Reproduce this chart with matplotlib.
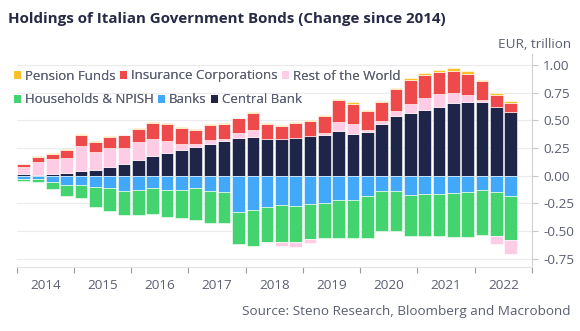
import numpy as np
import matplotlib.pyplot as plt
from matplotlib.patches import Patch

# Quarterly change since 2014 (EUR trillion), 2014Q1 .. 2022Q3
central_bank = [0.012, 0.010, 0.015, 0.020, 0.040, 0.055, 0.080, 0.105, 0.140, 0.175, 0.205, 0.235,
                0.256, 0.286, 0.310, 0.337, 0.352, 0.333, 0.331, 0.345, 0.356, 0.365, 0.400, 0.378,
                0.396, 0.468, 0.535, 0.565, 0.590, 0.617, 0.657, 0.670, 0.666, 0.620, 0.577]
rest_of_world = [0.063, 0.117, 0.133, 0.136, 0.226, 0.160, 0.166, 0.148, 0.160, 0.154, 0.111, 0.054,
                 0.030, 0.036, 0.020, 0.045, 0.060, -0.015, -0.030, -0.048, -0.032, 0.020, 0.082, 0.087,
                 0.020, 0.022, 0.050, 0.084, 0.114, 0.117, 0.093, 0.063, 0.020, -0.075, -0.123]
insurance = [0.030, 0.045, 0.051, 0.075, 0.102, 0.093, 0.108, 0.111, 0.126, 0.145, 0.154, 0.145,
             0.130, 0.133, 0.139, 0.136, 0.154, 0.130, 0.120, 0.133, 0.142, 0.150, 0.200, 0.187,
             0.168, 0.174, 0.198, 0.217, 0.205, 0.199, 0.196, 0.187, 0.166, 0.111, 0.084]
pension = [0.004, 0.005, 0.006, 0.008, 0.006, 0.008, 0.008, 0.008, 0.008, 0.009, 0.009, 0.009,
           0.010, 0.010, 0.009, 0.006, 0.009, 0.009, 0.009, 0.009, 0.009, 0.009, 0.010, 0.010,
           0.012, 0.015, 0.012, 0.018, 0.021, 0.021, 0.024, 0.024, 0.015, 0.012, 0.015]
banks = [-0.033, -0.030, -0.057, -0.080, -0.080, -0.105, -0.114, -0.138, -0.130, -0.111, -0.130, -0.125,
         -0.108, -0.135, -0.148, -0.325, -0.310, -0.280, -0.267, -0.270, -0.252, -0.250, -0.222, -0.216,
         -0.185, -0.139, -0.139, -0.175, -0.166, -0.163, -0.160, -0.148, -0.127, -0.145, -0.180]
households = [-0.012, -0.024, -0.060, -0.105, -0.124, -0.175, -0.205, -0.217, -0.226, -0.235, -0.247, -0.260,
              -0.290, -0.290, -0.280, -0.295, -0.325, -0.316, -0.335, -0.325, -0.322, -0.316, -0.340, -0.346,
              -0.380, -0.364, -0.364, -0.367, -0.380, -0.380, -0.395, -0.404, -0.410, -0.400, -0.400]
years = ["2014", "2015", "2016", "2017", "2018", "2019", "2020", "2021", "2022"]

colors = {
    "Pension Funds": "#fbbf2a",
    "Insurance Corporations": "#ee4a4c",
    "Rest of the World": "#ffcce6",
    "Households & NPISH": "#43d36f",
    "Banks": "#42a8fa",
    "Central Bank": "#1f2548",
}
# stacking order away from zero
stack = [
    ("Central Bank", central_bank),
    ("Banks", banks),
    ("Households & NPISH", households),
    ("Rest of the World", rest_of_world),
    ("Insurance Corporations", insurance),
    ("Pension Funds", pension),
]

plt.rcParams['font.family'] = ['Open Sans', 'DejaVu Sans']
text_grey = "#5b5f72"

fig = plt.figure(figsize=(5.8, 3.31), dpi=100)
ax = fig.add_axes([16.6 / 580, 1 - 266.5 / 331, (532 - 16.6) / 580, (266.5 - 53.9) / 331])

n = len(central_bank)
x = np.arange(n) + 0.5
pos_bottom = np.zeros(n)
neg_bottom = np.zeros(n)
for name, vals in stack:
    vals = np.array(vals)
    bottom = np.where(vals >= 0, pos_bottom, neg_bottom)
    ax.bar(x, vals, bottom=bottom, width=0.88, color=colors[name],
           edgecolor="white", linewidth=0.4, zorder=3)
    pos_bottom += np.clip(vals, 0, None)
    neg_bottom += np.clip(vals, None, 0)

ax.set_xlim(0, 4 * len(years))
ax.set_ylim(-0.82, 1.1)

# year boundaries as tick marks, labels centred in each year
ax.set_xticks(np.arange(0, 4 * len(years) + 1, 4))
ax.set_xticklabels([])
ax.set_xticks(np.arange(2, 4 * len(years), 4), minor=True)
ax.set_xticklabels(years, minor=True)
ax.tick_params(axis="x", which="major", length=4, color="#9a9a9a", width=0.8)
ax.tick_params(axis="x", which="minor", length=0, pad=9, labelsize=9.7, labelcolor=text_grey)

ax.yaxis.tick_right()
ax.set_yticks([-0.75, -0.5, -0.25, 0, 0.25, 0.5, 0.75, 1.0])
ax.set_yticklabels([f"{v:.2f}" for v in [-0.75, -0.5, -0.25, 0, 0.25, 0.5, 0.75, 1.0]])
ax.tick_params(axis="y", length=4, color="#c8c8c8", width=0.8, pad=4, labelsize=9.7, labelcolor=text_grey)
ax.grid(axis="y", color="#ebebeb", linewidth=0.8, zorder=0)

for side in ["left", "top"]:
    ax.spines[side].set_visible(False)
ax.spines["right"].set_color("#d0d0d0")
ax.spines["bottom"].set_color("#e4e4e4")

fig.text(8 / 580, 1 - 19 / 331, "Holdings of Italian Government Bonds (Change since 2014)",
         fontsize=10.9, fontweight="bold", color="#262a45", va="center", ha="left")
fig.text(571 / 580, 1 - 44 / 331, "EUR, trillion", fontsize=9.7, color=text_grey,
         va="center", ha="right")
fig.text(571 / 580, 1 - 311 / 331, "Source: Steno Research, Bloomberg and Macrobond",
         fontsize=9.7, color=text_grey, va="center", ha="right")

rows = [["Pension Funds", "Insurance Corporations", "Rest of the World"],
        ["Households & NPISH", "Banks", "Central Bank"]]
for row, ypix in zip(rows, [76, 100]):
    handles = [Patch(facecolor=colors[k], label=k) for k in row]
    leg = fig.legend(handles=handles, loc="center left", bbox_to_anchor=(14 / 580, 1 - ypix / 331),
                     ncol=3, frameon=False, fontsize=9.5, handlelength=0.55, handleheight=0.55,
                     handletextpad=0.3, columnspacing=0.3, borderaxespad=0, borderpad=0,
                     labelcolor=text_grey)
    fig.add_artist(leg)

fig.savefig("out.png", dpi=100)
